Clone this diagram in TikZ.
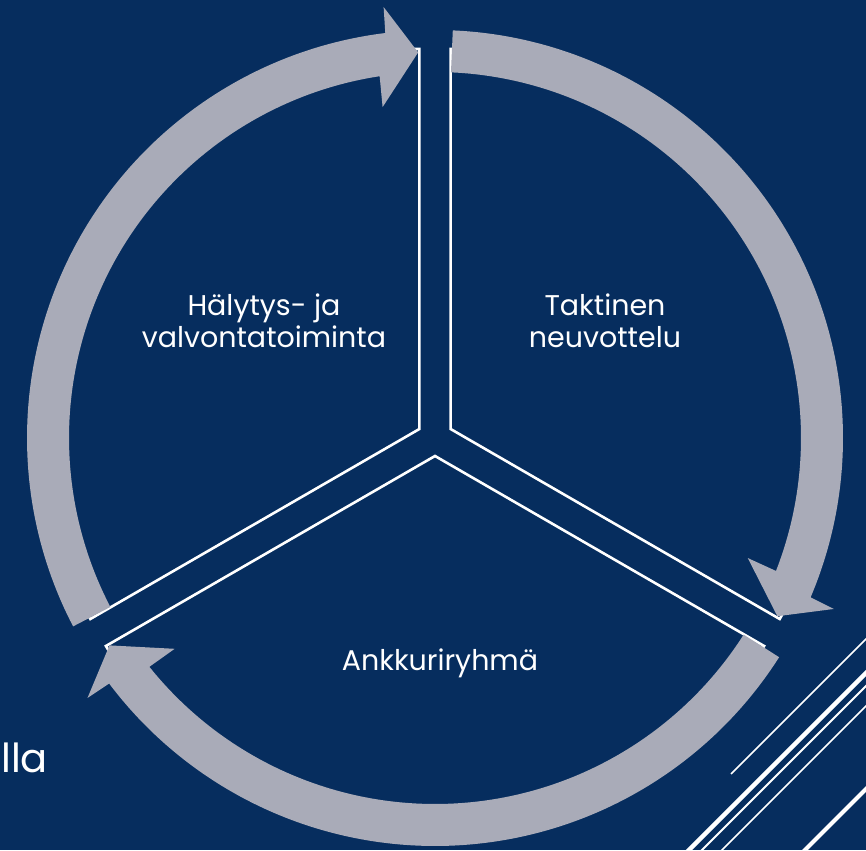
\documentclass[tikz,border=0pt]{standalone}
\usepackage{fontspec}
\setmainfont{Poppins}
\definecolor{navy}{RGB}{6,45,94}
\definecolor{arrowgray}{RGB}{169,171,184}
\begin{document}
\begin{tikzpicture}[x=1pt,y=1pt,
  sectorline/.style={draw=white,line width=2.6pt,line join=miter},
  cyclearrow/.style={fill=arrowgray},
  label/.style={text=white,font=\fontsize{28.5}{32}\selectfont,align=center},
  deco/.style={draw=white}]
\useasboundingbox (0,0) rectangle (866,850);
\fill[navy] (0,0) rectangle (866,850);
\coordinate (C) at (435,412);
% sectors
\begin{scope}[shift={(C)}]
  \draw[sectorline] (150:18) -- ++(90:380) arc[start angle=90,end angle=210,radius=380] -- cycle;
  \draw[sectorline] (30:18) -- ++(-30:380) arc[start angle=-30,end angle=90,radius=380] -- cycle;
  \draw[sectorline] (270:18) -- ++(210:380) arc[start angle=210,end angle=330,radius=380] -- cycle;
  % arrows (clockwise from tail to tip)
  \foreach \tail/\tip in {207.5/92.5, 87.5/-27.5, 327.5/212.5}{
    \pgfmathsetmacro{\tl}{\tail}
    \pgfmathsetmacro{\tp}{\tip}
    \pgfmathsetmacro{\bo}{\tip+4.5}
    \pgfmathsetmacro{\ho}{\tip+4.3}
    \pgfmathsetmacro{\hi}{\tip+6.5}
    \pgfmathsetmacro{\bi}{\tip+6.2}
    \fill[cyclearrow] (\tl:408) arc[start angle=\tl,end angle=\bo,radius=408]
      -- (\ho:434) -- (\tp:386) -- (\hi:335) -- (\bi:366)
      arc[start angle=\bi,end angle=\tl,radius=366] -- cycle;
  }
\end{scope}
% labels
\node[label] (l1) at (264,529) {Hälytys- ja\\valvontatoiminta};
\node[label] (l2) at (605,529) {Taktinen\\neuvottelu};
\node[label] (l3) at (440,187) {Ankkuriryhmä};
\node[text=white,font=\fontsize{40}{46}\selectfont,anchor=base west,inner sep=0pt] (l4) at (1,77) {lla};
% decorative diagonal lines
\draw[deco,line width=1.5pt] (731,76) -- (880,225);
\draw[deco,line width=4.5pt] (680,-9) -- (880,191);
\draw[deco,line width=2pt] (692,-10) -- (880,178);
\draw[deco,line width=1.6pt] (712,-10) -- (880,158);
\draw[deco,line width=4pt] (795,-10) -- (880,75);
\end{tikzpicture}
\end{document}
